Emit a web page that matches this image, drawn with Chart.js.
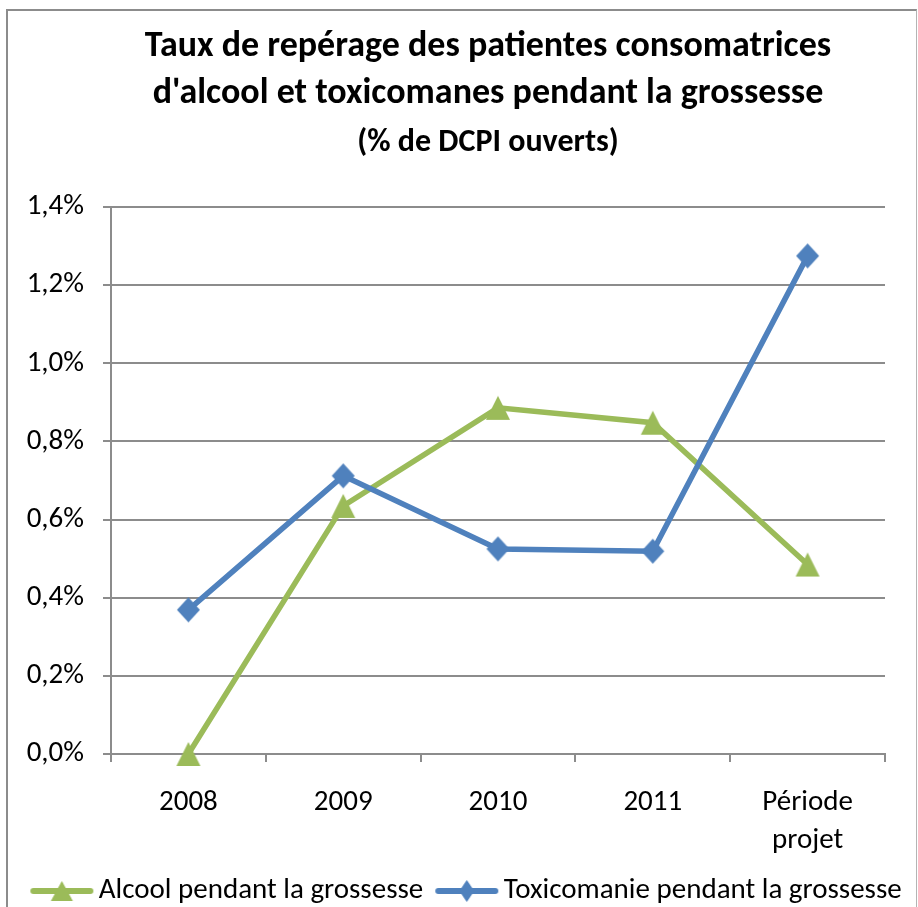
<!DOCTYPE html>
<html>
<head>
<meta charset="utf-8">
<script src="https://cdn.jsdelivr.net/npm/chart.js@4/dist/chart.umd.min.js"></script>
<style>
    html, body { margin: 0; padding: 0; background: #fff; }
    #wrap { position: relative; width: 918px; height: 907px; overflow: hidden; }
    #frame {
        position: absolute; left: 6px; top: 9px; width: 908px; height: 920px;
        border-left: 2px solid #8c8c8c; border-top: 2px solid #8c8c8c; border-right: 1px solid #b4b4b4;
        pointer-events: none;
    }
</style>
</head>
<body>
<div id="wrap">
    <canvas id="myChart" width="918" height="907"></canvas>
    <div id="frame"></div>
</div>
<script>
const categories = ["2008", "2009", "2010", "2011", ["Période", "projet"]];
const alcool = [0.0, 0.635, 0.886, 0.848, 0.485];
const toxicomanie = [0.369, 0.712, 0.525, 0.519, 1.275];
const yMax = 1.4;
const yStep = 0.2;

const FONT = "Carlito, 'Liberation Sans Narrow', 'Open Sans', sans-serif";
const green = '#9BBB59';
const blue = '#4F81BD';
const gridColor = '#8c8c8c';

const drawShape = (ctx, shape, cx, cy, w, h) => {
    ctx.beginPath();
    if (shape === 'triangle') {
        ctx.moveTo(cx, cy - h / 2);
        ctx.lineTo(cx + w / 2, cy + h / 2);
        ctx.lineTo(cx - w / 2, cy + h / 2);
    } else {
        ctx.moveTo(cx, cy - h / 2);
        ctx.lineTo(cx + w / 2, cy);
        ctx.lineTo(cx, cy + h / 2);
        ctx.lineTo(cx - w / 2, cy);
    }
    ctx.closePath();
    ctx.fill();
};

// marker images, centred on the point like the Excel ones
const marker = (color, shape, w, h) => {
    const c = document.createElement('canvas');
    c.width = w + 2;
    c.height = h + 2;
    const ctx = c.getContext('2d');
    ctx.fillStyle = color;
    drawShape(ctx, shape, c.width / 2, c.height / 2, w, h);
    return c;
};

// legend glyph: line with the marker in the middle
const legendIcon = (color, shape, w, h) => {
    const c = document.createElement('canvas');
    c.width = 140;
    c.height = 30;
    const ctx = c.getContext('2d');
    ctx.strokeStyle = color;
    ctx.fillStyle = color;
    ctx.lineWidth = 6;
    ctx.lineCap = 'round';
    ctx.beginPath();
    ctx.moveTo(46, 15);
    ctx.lineTo(103, 15);
    ctx.stroke();
    drawShape(ctx, shape, 74.5, 15, w, h);
    return c;
};

const icons = [legendIcon(green, 'triangle', 22, 20), legendIcon(blue, 'diamond', 15, 22)];

// the title block sits a bit right of the page centre in the original
const shiftTitles = {
    id: 'shiftTitles',
    afterLayout(chart) {
        chart.boxes.forEach((b) => {
            if (b.position === 'top' && b.options && 'text' in b.options) {
                b.left = 58;
                b.right = 918;
            }
        });
    }
};

new Chart(document.getElementById('myChart').getContext('2d'), {
    type: 'line',
    plugins: [shiftTitles],
    data: {
        labels: categories,
        datasets: [{
            label: 'Alcool pendant la grossesse',
            data: alcool,
            borderColor: green,
            backgroundColor: green,
            borderWidth: 5.5,
            pointStyle: marker(green, 'triangle', 24, 24),
            pointRadius: 12,
            tension: 0,
            clip: false,
            order: 1,
        }, {
            label: 'Toxicomanie pendant la grossesse',
            data: toxicomanie,
            borderColor: blue,
            backgroundColor: blue,
            borderWidth: 5.5,
            pointStyle: marker(blue, 'diamond', 23, 25),
            pointRadius: 12,
            tension: 0,
            clip: false,
            order: 0,
        }]
    },
    options: {
        responsive: false,
        animation: false,
        devicePixelRatio: 1,
        layout: {
            padding: { left: 14, right: 0, top: 0, bottom: -8.5 }
        },
        plugins: {
            tooltip: { enabled: false },
            title: {
                display: true,
                text: [
                    'Taux de repérage des patientes consomatrices',
                    "d'alcool et toxicomanes pendant la grossesse"
                ],
                color: '#000',
                font: { family: FONT, size: 36, weight: 'bold', lineHeight: 1.32 },
                padding: { top: 23, bottom: 0 },
            },
            subtitle: {
                display: true,
                text: '(% de DCPI ouverts)',
                color: '#000',
                font: { family: FONT, size: 32, weight: 'bold', lineHeight: 1.3 },
                padding: { top: 3.7, bottom: 43.7 },
            },
            legend: {
                position: 'bottom',
                labels: {
                    usePointStyle: true,
                    pointStyleWidth: 54,
                    color: '#000',
                    font: { family: FONT, size: 29, lineHeight: 1 },
                    padding: 12,
                    generateLabels: (chart) => chart.data.datasets.map((ds, i) => ({
                        text: ds.label,
                        pointStyle: icons[i],
                        fillStyle: ds.borderColor,
                        strokeStyle: ds.borderColor,
                        lineWidth: 0,
                        hidden: false,
                        datasetIndex: i,
                        fontColor: '#000',
                    })),
                },
            },
        },
        scales: {
            x: {
                offset: true,
                grid: {
                    offset: true,
                    drawOnChartArea: false,
                    drawTicks: true,
                    tickLength: 8,
                    color: gridColor,
                    lineWidth: 2,
                },
                border: { color: gridColor, width: 2 },
                ticks: {
                    color: '#000',
                    font: { family: FONT, size: 29, lineHeight: 1.31 },
                    padding: 22,
                    maxRotation: 0,
                    autoSkip: false,
                },
                afterFit: (scale) => { scale.height = 110.5; },
            },
            y: {
                min: 0,
                max: yMax,
                grid: {
                    color: gridColor,
                    lineWidth: 2,
                    drawTicks: true,
                    tickLength: 8,
                },
                border: { color: gridColor, width: 2 },
                ticks: {
                    stepSize: yStep,
                    color: '#000',
                    font: { family: FONT, size: 29 },
                    padding: 19,
                    callback: (v) => v.toFixed(1).replace('.', ',') + '%',
                },
                afterFit: (scale) => { scale.width = 97; },
            },
            // empty axis that only keeps the right margin free
            yRight: {
                position: 'right',
                grid: { display: false },
                border: { display: false },
                ticks: { display: false },
                afterFit: (scale) => { scale.width = 33; },
            },
        },
    },
});
</script>
</body>
</html>
